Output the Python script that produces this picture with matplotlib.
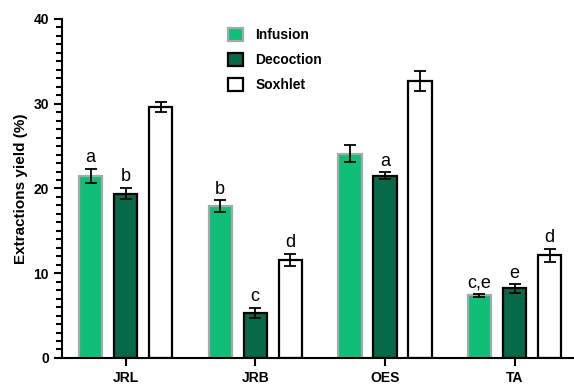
import numpy as np
import matplotlib.pyplot as plt
from matplotlib.ticker import MultipleLocator

# extraction yields (%) per sample and method
samples = ['JRL', 'JRB', 'OES', 'TA']
infusion = [21.5, 17.9, 24.1, 7.4]
infusion_err = [0.8, 0.7, 1.0, 0.15]
decoction = [19.4, 5.3, 21.5, 8.2]
decoction_err = [0.7, 0.6, 0.4, 0.5]
soxhlet = [29.6, 11.6, 32.7, 12.1]
soxhlet_err = [0.6, 0.7, 1.2, 0.8]

# significance letters (None = no label)
infusion_lbl = ['a', 'b', None, 'c,e']
decoction_lbl = ['b', 'c', 'a', 'e']
soxhlet_lbl = [None, 'd', None, 'd']

plt.rcParams['font.family'] = ['Liberation Sans', 'DejaVu Sans']

fig = plt.figure(figsize=(5.74, 3.87), dpi=100)
ax = fig.add_axes([0.108, 0.075, 0.89, 0.876])

x = np.arange(len(samples))
w = 0.18
off = 0.27

series = [
    (infusion, infusion_err, infusion_lbl, -off, '#0fbf78', '#a8a8a8', 'Infusion'),
    (decoction, decoction_err, decoction_lbl, 0, '#08694a', 'black', 'Decoction'),
    (soxhlet, soxhlet_err, soxhlet_lbl, off, 'white', 'black', 'Soxhlet'),
]

for vals, errs, lbls, dx, fc, ec, name in series:
    ax.bar(x + dx, vals, w, color=fc, edgecolor=ec, linewidth=1.6, label=name, zorder=2)
    ax.errorbar(x + dx, vals, yerr=errs, fmt='none', ecolor='black', elinewidth=1.3,
                capsize=4, capthick=1.3, zorder=3)
    for xi, v, e, t in zip(x + dx, vals, errs, lbls):
        if t:
            ax.text(xi, v + e + 0.3, t, ha='center', va='bottom', fontsize=13)

ax.set_xlim(-0.49, 3.45)
ax.set_ylim(0, 40)
ax.yaxis.set_major_locator(MultipleLocator(10))
ax.yaxis.set_minor_locator(MultipleLocator(1))
ax.set_xticks(x)
ax.set_xticklabels(samples, fontweight='bold', fontsize=10)
for lab in ax.get_yticklabels():
    lab.set_fontweight('bold')
    lab.set_fontsize(10)
ax.tick_params(axis='y', which='major', length=6, width=1.5)
ax.tick_params(axis='y', which='minor', length=4, width=1.5)
ax.tick_params(axis='x', length=6, width=1.5)
ax.set_ylabel('Extractions yield (%)', fontweight='bold', fontsize=11)

for s in ['top', 'right']:
    ax.spines[s].set_visible(False)
for s in ['left', 'bottom']:
    ax.spines[s].set_linewidth(1.5)

ax.legend(loc='upper left', bbox_to_anchor=(0.3, 1.01), frameon=False,
          handlelength=1.1, handleheight=1.1, handletextpad=0.9,
          prop={'weight': 'bold', 'size': 10}, labelspacing=0.75)

fig.savefig('out.png', dpi=100)
